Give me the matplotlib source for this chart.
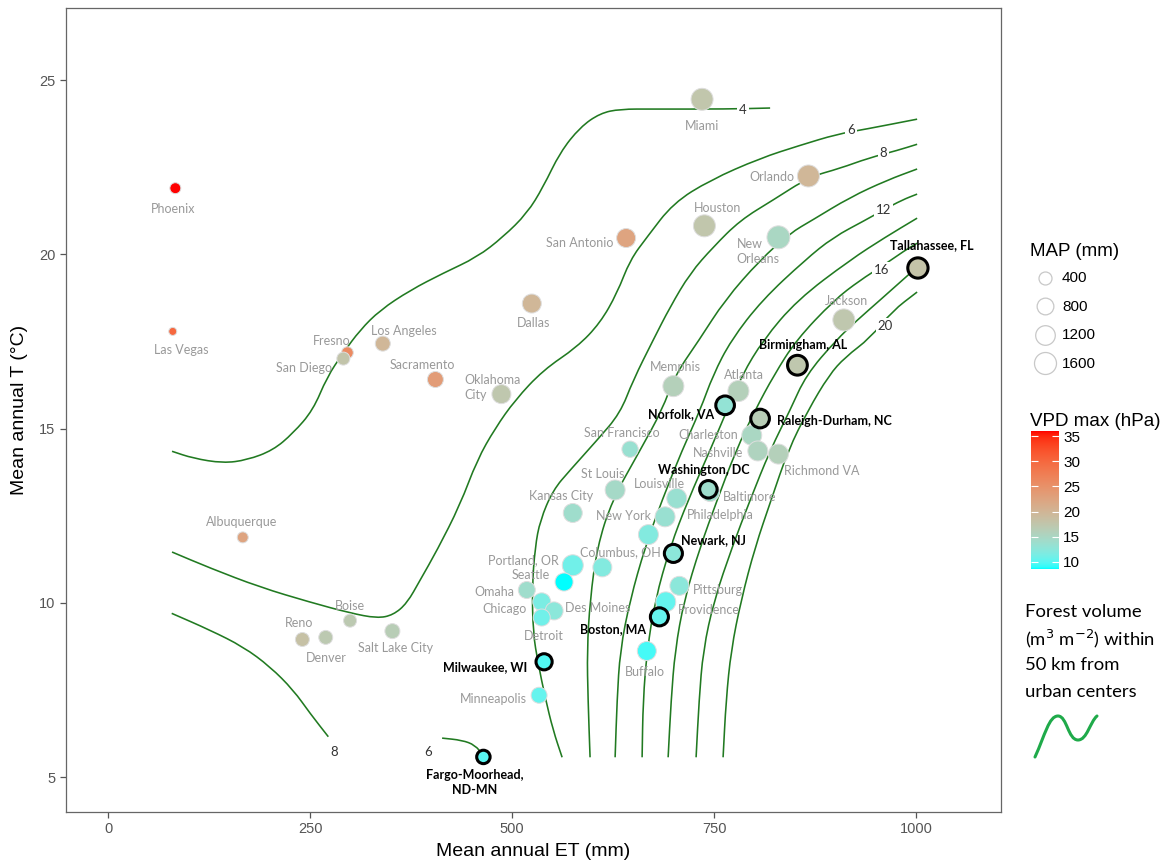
import numpy as np
import matplotlib
matplotlib.use("Agg")
import matplotlib.pyplot as plt
from matplotlib.colors import ListedColormap, Normalize
from matplotlib.path import Path
from matplotlib.patches import PathPatch

# ---- cities: mean annual ET (mm), mean annual T (degC), MAP (mm), VPD max (hPa) ----
cities = ["Phoenix", "Las Vegas", "Fresno", "San Diego", "Los Angeles", "Sacramento",
          "Oklahoma\nCity", "Dallas", "San Antonio", "Miami", "Houston", "Orlando",
          "New\nOrleans", "Tallahassee, FL", "Jackson", "Birmingham, AL", "Memphis",
          "Atlanta", "Norfolk, VA", "Raleigh-Durham, NC", "Charleston", "Nashville",
          "Richmond VA", "San Francisco", "Baltimore", "Washington, DC", "Louisville",
          "St Louis", "Kansas City", "New York", "Philadelphia", "Newark, NJ",
          "Columbus, OH", "Portland, OR", "Seattle", "Omaha", "Chicago", "Des Moines",
          "Detroit", "Pittsburg", "Providence", "Boston, MA", "Buffalo", "Milwaukee, WI",
          "Minneapolis", "Fargo-Moorhead,\nND-MN", "Albuquerque", "Boise", "Reno",
          "Denver", "Salt Lake City"]
et_mm = [83.3, 80.1, 296.2, 291.2, 340.0, 405.1, 486.8, 524.4, 641.1, 735.1, 738.0, 866.7,
         829.6, 1002.2, 910.5, 853.1, 699.6, 780.1, 763.6, 806.9, 796.6, 804.1, 829.6, 646.0,
         745.0, 742.9, 703.8, 627.5, 575.1, 689.3, 668.7, 699.6, 611.7, 575.1, 564.3, 518.2,
         536.7, 552.0, 536.7, 707.0, 690.2, 682.3, 666.7, 539.6, 533.4, 464.5, 166.7, 299.5,
         240.5, 269.4, 351.9]
temp_c = [21.90, 17.79, 17.18, 17.01, 17.44, 16.41, 15.99, 18.59, 20.47, 24.45, 20.82, 22.25,
          20.49, 19.61, 18.12, 16.82, 16.22, 16.08, 15.67, 15.29, 14.81, 14.36, 14.27, 14.41,
          13.18, 13.26, 13.00, 13.24, 12.58, 12.47, 11.96, 11.42, 11.02, 11.08, 10.60, 10.37,
          10.03, 9.77, 9.58, 10.49, 10.03, 9.60, 8.62, 8.31, 7.35, 5.58, 11.88, 9.49,
          8.95, 9.01, 9.19]
map_mm = [240, 80, 300, 400, 600, 710, 1110, 1110, 1110, 1600, 1600, 1600,
          1780, 1600, 1600, 1500, 1430, 1430, 1300, 1300, 1260, 1260, 1260, 750,
          1100, 1100, 1260, 1260, 1110, 1260, 1260, 1200, 1110, 1430, 970, 835,
          970, 970, 835, 1110, 1260, 1200, 1110, 900, 710, 550, 240, 400,
          490, 490, 600]
vpd_hpa = [36.0, 30.0, 26.0, 17.8, 19.8, 23.5, 17.3, 19.8, 22.5, 17.5, 17.5, 19.8,
           15.0, 18.0, 17.3, 17.3, 16.0, 16.0, 13.0, 16.5, 15.0, 15.5, 16.0, 13.5,
           14.0, 14.0, 13.5, 14.5, 14.0, 13.5, 12.0, 12.5, 12.0, 11.0, 8.6, 14.0,
           11.5, 12.5, 11.0, 12.5, 10.5, 10.5, 9.5, 9.8, 10.5, 10.0, 22.5, 17.0,
           18.3, 17.0, 16.5]
bold_cities = ["Tallahassee, FL", "Birmingham, AL", "Norfolk, VA", "Raleigh-Durham, NC",
               "Washington, DC", "Newark, NJ", "Boston, MA", "Milwaukee, WI",
               "Fargo-Moorhead,\nND-MN"]

# ---- forest volume contours (ET mm, T degC) ----
c4_et = [79.2, 105.2, 142.3, 172.0, 204.2, 229.0, 253.7, 271.0, 290.8, 311.9, 336.6, 373.8,
         414.6, 456.7, 488.9, 518.6, 538.4, 559.4, 584.2, 608.9, 633.7, 674.5, 766.0, 819.3]
c4_t = [14.35, 14.15, 14.01, 14.10, 14.38, 14.87, 15.53, 16.48, 17.17, 17.83, 18.40, 18.97,
        19.46, 19.92, 20.50, 21.18, 21.93, 22.93, 23.65, 24.05, 24.17, 24.17, 24.17, 24.20]
c6_et = [79.2, 126.2, 188.1, 250.0, 299.5, 332.9, 352.7, 370.0, 386.1, 407.2, 435.6, 456.7,
         479.0, 503.7, 538.4, 580.4, 608.9, 630.0, 646.0, 667.1, 699.3, 745.0, 807.0, 856.4,
         902.2, 936.9, 1001.2]
c6_t = [11.46, 11.00, 10.45, 10.02, 9.71, 9.56, 9.65, 9.99, 10.65, 11.51, 12.81, 14.10,
        15.01, 15.82, 16.68, 17.34, 18.03, 18.89, 19.84, 20.50, 21.47, 22.13, 22.76, 23.13,
        23.45, 23.59, 23.88]
c6b_et = [413.4, 438.1, 454.2, 464.1]
c6b_t = [6.12, 6.06, 5.92, 5.63]
c8a_et = [78.8, 126.2, 167.4, 200.5, 229.3, 250.0, 272.6]
c8a_t = [9.70, 9.22, 8.74, 8.17, 7.50, 6.83, 6.16]
c8_et = [1001.2, 977.7, 940.6, 905.9, 867.6, 823.0, 782.2, 748.8, 720.3, 695.5, 674.5, 649.8,
         633.7, 605.2, 571.8, 550.7, 534.7, 528.5, 524.8, 526.0, 532.2, 540.8, 550.7, 561.9]
c8_t = [23.16, 22.99, 22.76, 22.47, 22.22, 21.56, 20.98, 20.21, 19.46, 18.49, 17.54, 16.39,
        15.44, 14.67, 13.81, 13.24, 12.37, 11.60, 10.45, 9.13, 8.27, 7.30, 6.35, 5.57]
c10_et = [1001.2, 964.1, 918.3, 871.3, 844.0, 806.9, 763.3, 731.4, 701.7, 685.6, 658.4, 623.8,
          605.2, 596.5, 592.8, 594.0, 596.5]
c10_t = [22.45, 22.13, 21.64, 20.98, 20.61, 19.84, 18.69, 17.54, 16.54, 15.53, 14.38, 12.95,
         11.60, 10.08, 8.64, 7.21, 5.57]
c12_et = [1001.2, 982.6, 959.1, 936.9, 897.3, 862.6, 809.4, 771.0, 748.7, 732.7, 710.4, 685.6,
          664.6, 646.0, 633.7, 629.9, 627.5]
c12_t = [21.73, 21.56, 21.27, 20.98, 20.49, 19.84, 18.69, 17.54, 16.54, 15.53, 14.38, 12.95,
         11.60, 10.08, 8.64, 7.21, 5.57]
c14_et = [1001.2, 961.6, 918.3, 852.7, 810.6, 784.6, 766.0, 745.0, 717.8, 695.5, 677.0, 667.1,
          662.1, 660.9]
c14_t = [21.04, 20.49, 19.84, 18.69, 17.54, 16.54, 15.53, 14.38, 12.95, 11.60, 10.08, 8.64,
         7.21, 5.57]
c16_et = [1001.2, 986.4, 957.9, 930.7, 898.5, 851.5, 824.2, 800.7, 777.2, 753.7, 732.7, 712.9,
          701.7, 696.8, 693.1]
c16_t = [20.32, 20.12, 19.66, 19.26, 18.69, 17.54, 16.54, 15.53, 14.38, 12.95, 11.60, 10.08,
         8.64, 7.21, 5.57]
c18_et = [1001.2, 992.6, 955.4, 926.9, 901.0, 863.8, 844.0, 819.3, 794.5, 772.3, 750.0, 736.4,
          731.4, 727.7]
c18_t = [19.63, 19.46, 18.69, 18.11, 17.54, 16.54, 15.53, 14.38, 12.95, 11.60, 10.08, 8.64,
         7.21, 5.57]
c20_et = [1001.2, 970.3, 943.1, 912.1, 892.3, 866.3, 841.6, 820.5, 800.7, 783.4, 771.0, 764.8,
          761.1]
c20_t = [18.92, 18.37, 17.60, 17.05, 16.54, 15.53, 14.38, 12.95, 11.60, 10.08, 8.64, 7.21,
         5.57]
contours = [(c4_et, c4_t), (c6_et, c6_t), (c6b_et, c6b_t), (c8a_et, c8a_t), (c8_et, c8_t),
            (c10_et, c10_t), (c12_et, c12_t), (c14_et, c14_t), (c16_et, c16_t),
            (c18_et, c18_t), (c20_et, c20_t)]

contour_labels = ["4", "6", "8", "12", "16", "20", "8", "6"]
contour_label_et = [785.9, 919.1, 959.5, 959.5, 957.4, 962.0, 280.1, 395.7]
contour_label_t = [24.14, 23.57, 22.91, 21.27, 19.56, 17.95, 5.73, 5.73]

map_legend = [400, 800, 1200, 1600]
vpd_ticks = [10, 15, 20, 25, 30, 35]

# label offsets in pixels (dx, dy, horizontal alignment)
label_pos = {
    "Phoenix": (-2, -21, "center"), "Las Vegas": (8, -19, "center"),
    "Fresno": (-16, 12, "center"), "San Diego": (-39, -9, "center"),
    "Los Angeles": (21, 13, "center"), "Sacramento": (-13, 15, "center"),
    "Oklahoma\nCity": (-37, 7, "left"), "Dallas": (2, -19, "center"),
    "San Antonio": (-46, -5, "center"), "Miami": (0, -27, "center"),
    "Houston": (13, 18, "center"), "Orlando": (-37, -1, "center"),
    "New\nOrleans": (-42, -14, "left"), "Tallahassee, FL": (14, 23, "center"),
    "Jackson": (3, 19, "center"), "Birmingham, AL": (6, 20, "center"),
    "Memphis": (2, 19, "center"), "Atlanta": (6, 16, "center"),
    "Norfolk, VA": (-44, -9, "center"), "Raleigh-Durham, NC": (17, -2, "left"),
    "Charleston": (-44, 0, "center"), "Nashville": (-40, -2, "center"),
    "Richmond VA": (43, -17, "center"), "San Francisco": (-8, 16, "center"),
    "Washington, DC": (-5, 19, "center"), "Baltimore": (40, -5, "center"),
    "Louisville": (-17, 14, "center"), "St Louis": (-12, 16, "center"),
    "Kansas City": (-12, 17, "center"), "New York": (-42, 1, "center"),
    "Philadelphia": (72, 20, "center"), "Newark, NJ": (40, 13, "center"),
    "Columbus, OH": (18, 15, "center"), "Portland, OR": (-49, 5, "center"),
    "Seattle": (-33, 7, "center"), "Omaha": (-32, -2, "center"),
    "Chicago": (-37, -7, "center"), "Des Moines": (44, 3, "center"),
    "Detroit": (2, -18, "center"), "Pittsburg": (39, -4, "center"),
    "Providence": (43, -8, "center"), "Boston, MA": (-46, -12, "center"),
    "Buffalo": (-2, -21, "center"), "Milwaukee, WI": (-59, -5, "center"),
    "Minneapolis": (-46, -4, "center"), "Fargo-Moorhead,\nND-MN": (-9, -26, "center"),
    "Albuquerque": (-1, 15, "center"), "Boise": (0, 15, "center"),
    "Reno": (-3, 16, "center"), "Denver": (1, -21, "center"),
    "Salt Lake City": (3, -17, "center"),
}


def lab_to_rgb(lab):
    L, a, b = lab[:, 0], lab[:, 1], lab[:, 2]
    fy = (L + 16) / 116
    fx = fy + a / 500
    fz = fy - b / 200

    def finv(t):
        return np.where(t ** 3 > 0.008856, t ** 3, (t - 16 / 116) / 7.787)
    X, Y, Z = 0.95047 * finv(fx), finv(fy), 1.08883 * finv(fz)
    r = 3.2406 * X - 1.5372 * Y - 0.4986 * Z
    g = -0.9689 * X + 1.8758 * Y + 0.0415 * Z
    bl = 0.0557 * X - 0.2040 * Y + 1.0570 * Z
    rgb = np.clip(np.stack([r, g, bl], -1), 0, None)
    rgb = np.where(rgb > 0.0031308, 1.055 * rgb ** (1 / 2.4) - 0.055, 12.92 * rgb)
    return np.clip(rgb, 0, 1)


def smooth_path(xs, ys):
    # quadratic bezier through the midpoints, so the traced line is drawn smooth
    pts = np.column_stack([xs, ys])
    mids = (pts[:-1] + pts[1:]) / 2
    verts = [pts[0], mids[0]]
    codes = [Path.MOVETO, Path.LINETO]
    for i in range(1, len(pts) - 1):
        verts += [pts[i], mids[i]]
        codes += [Path.CURVE3, Path.CURVE3]
    verts.append(pts[-1])
    codes.append(Path.LINETO)
    return Path(verts, codes)


# cyan -> red gradient, interpolated in Lab like ggplot
lab_cyan = np.array([91.11, -48.09, -14.13])
lab_red = np.array([53.24, 80.09, 67.20])
tt = np.linspace(0, 1, 256)[:, None]
cmap = ListedColormap(lab_to_rgb(lab_cyan + tt * (lab_red - lab_cyan)))
norm = Normalize(min(vpd_hpa), max(vpd_hpa))


def marker_area(v):
    d_px = 4 + 0.45 * np.sqrt(np.asarray(v, dtype=float))
    return (d_px * 0.72) ** 2


W, H = 1173, 863
fig = plt.figure(figsize=(W / 100, H / 100), dpi=100)
ax = fig.add_axes([66 / W, 51 / H, 935 / W, 804 / H])

line_green = "#217a21"
for xs, ys in contours:
    ax.add_patch(PathPatch(smooth_path(xs, ys), fc="none", ec=line_green, lw=1.15, zorder=2))

for lab, x, y in zip(contour_labels, contour_label_et, contour_label_t):
    ax.text(x, y, lab, ha="center", va="center", fontsize=9.5, family="Lato", color="#333333",
            zorder=3, bbox=dict(boxstyle="square,pad=0.15", fc="white", ec="none"))

is_bold = np.array([c in bold_cities for c in cities])
et_a, t_a = np.array(et_mm), np.array(temp_c)
map_a, vpd_a = np.array(map_mm), np.array(vpd_hpa)
ax.scatter(et_a[~is_bold], t_a[~is_bold], s=marker_area(map_a[~is_bold]),
           c=vpd_a[~is_bold], cmap=cmap, norm=norm, edgecolors="#dedede", linewidths=0.7, zorder=4)
ax.scatter(et_a[is_bold], t_a[is_bold], s=marker_area(map_a[is_bold]) * 0.85,
           c=vpd_a[is_bold], cmap=cmap, norm=norm, edgecolors="black", linewidths=2.2, zorder=4)

for name, x, y in zip(cities, et_mm, temp_c):
    dx, dy, ha = label_pos[name]
    bold = name in bold_cities
    ax.annotate(name, (x, y), xytext=(dx, dy), textcoords="offset pixels", ha=ha, va="center",
                fontsize=9, family="Lato", linespacing=1.3,
                color="black" if bold else "#999999", fontweight="bold" if bold else "normal",
                zorder=5)

ax.set_xlim(-52, 1105)
ax.set_ylim(4.0, 27.07)
ax.set_xticks([0, 250, 500, 750, 1000])
ax.set_yticks([5, 10, 15, 20, 25])
ax.tick_params(length=4, width=0.9, color="#555555", labelsize=10.5, labelcolor="#555555")
for lbl in ax.get_xticklabels() + ax.get_yticklabels():
    lbl.set_family("Liberation Sans")
for sp in ax.spines.values():
    sp.set_color("#666666")
    sp.set_linewidth(0.9)
ax.set_xlabel("Mean annual ET (mm)", fontsize=14, family="Liberation Sans", labelpad=5)
ax.set_ylabel("Mean annual T (°C)", fontsize=14, family="Liberation Sans", labelpad=8)

# ---- legends on the right ----
lg = fig.add_axes([0, 0, 1, 1])
lg.set_xlim(0, W)
lg.set_ylim(H, 0)
lg.axis("off")

lg.text(1030, 251, "MAP (mm)", fontsize=13.5, family="Liberation Sans", va="center")
for i, v in enumerate(map_legend):
    yy = 278 + i * 28.5
    lg.scatter([1045], [yy], s=marker_area(v), facecolors="white", edgecolors="#c8c8c8",
               linewidths=0.9)
    lg.text(1062, yy, str(v), fontsize=11, family="Liberation Sans", va="center")

lg.text(1030, 421, "VPD max (hPa)", fontsize=13.5, family="Liberation Sans", va="center")
cax = fig.add_axes([1031 / W, (H - 569) / H, 28 / W, 138 / H])
grad = np.linspace(norm.vmin, norm.vmax, 256)[:, None]
cax.imshow(grad, aspect="auto", cmap=cmap, norm=norm, origin="lower",
           extent=[0, 1, norm.vmin, norm.vmax])
cax.set_xticks([])
cax.set_yticks(vpd_ticks)
cax.tick_params(axis="y", direction="in", length=5, color="white", width=0.8,
                left=True, right=True, labelleft=False, labelright=True,
                labelsize=11, pad=3)
for lbl in cax.get_yticklabels():
    lbl.set_family("Liberation Sans")
for sp in cax.spines.values():
    sp.set_visible(False)

forest_lines = ["Forest volume", r"(m$^{3}$ m$^{-2}$) within", "50 km from", "urban centers"]
for i, s in enumerate(forest_lines):
    lg.text(1025, 612 + i * 26.5, s, fontsize=13.3, family="Lato", va="center")

wave = Path([(1035, 757), (1045, 735), (1049, 716), (1058, 716),
             (1067, 716), (1068, 740), (1078, 740),
             (1087, 740), (1090, 722), (1097, 716)],
            [Path.MOVETO, Path.CURVE4, Path.CURVE4, Path.CURVE4,
             Path.CURVE4, Path.CURVE4, Path.CURVE4,
             Path.CURVE4, Path.CURVE4, Path.CURVE4])
lg.add_patch(PathPatch(wave, fc="none", ec="#1faa4a", lw=2.2, capstyle="round"))

fig.savefig("out.png", dpi=100)
